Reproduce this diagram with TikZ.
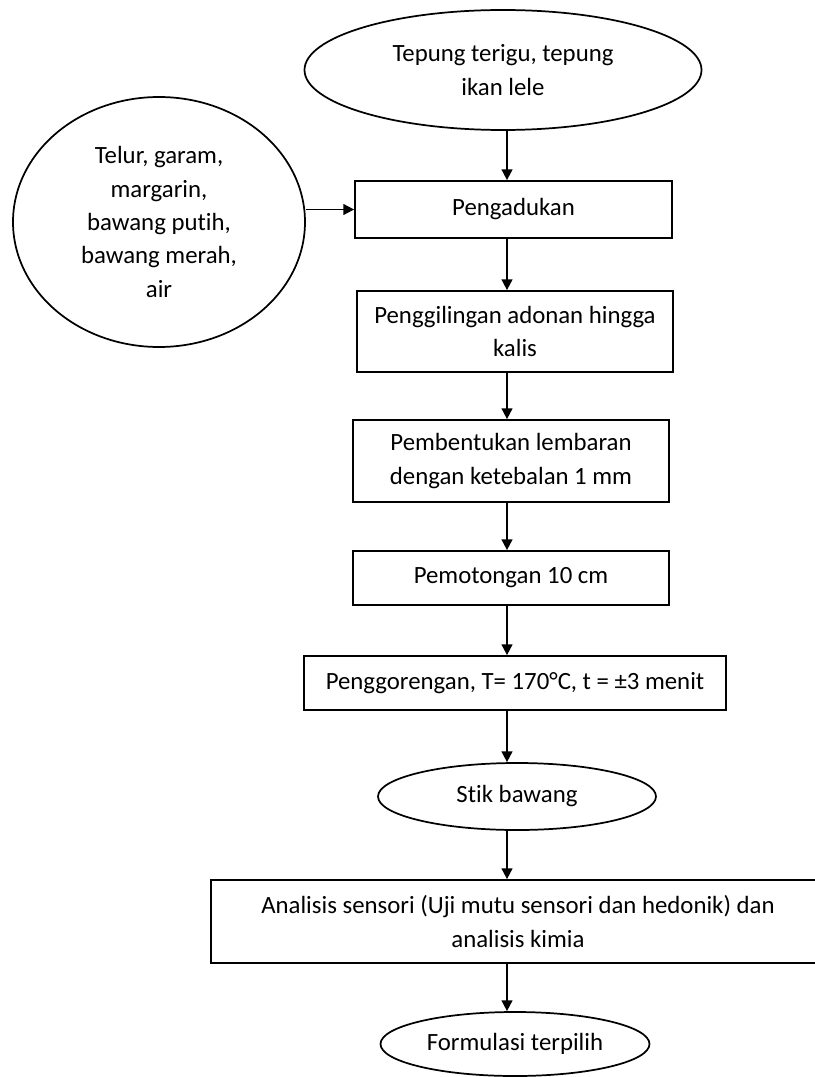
\documentclass[tikz,border=0pt]{standalone}
\usepackage{fontspec}
\setmainfont[Ligatures=NoCommon]{Carlito}
\usetikzlibrary{arrows.meta,shapes.geometric}
\usetikzlibrary{positioning}

\begin{document}
\begin{tikzpicture} [
    x=0.75pt, y=-0.75pt,
    font=\fontsize{18.6}{25}\selectfont,
    proses/.style={rectangle, draw=black, line width=1.3pt, align=center, inner sep=0pt},
    bahan/.style={ellipse, draw=black, line width=1.3pt, align=center, inner sep=0pt},
    alur/.style={->, line width=1.3pt},
    >={Triangle[length=8pt,width=8pt]}
    ]
    \useasboundingbox (0,0) rectangle (814,1077);
    %Nodes
    \node[bahan, minimum width=297.75pt, minimum height=90pt]    (tepung)   at (503,70)    {Tepung terigu, tepung\\ikan lele};
    \node[bahan, minimum width=219pt, minimum height=187.5pt]    (bumbu)    at (159,222)   {Telur, garam,\\margarin,\\bawang putih,\\bawang merah,\\air};
    \node[proses, minimum width=237.75pt, minimum height=42.75pt] (aduk)    at (513.5,209.5) {Pengadukan};
    \node[proses, minimum width=237pt, minimum height=60.75pt]   (giling)   at (515,331.5) {Penggilingan adonan hingga\\kalis};
    \node[proses, minimum width=237pt, minimum height=61.5pt]    (lembar)   at (511,461)   {Pembentukan lembaran\\dengan ketebalan 1 mm};
    \node[proses, minimum width=237pt, minimum height=40.5pt]    (potong)   at (511,578)   {Pemotongan 10 cm};
    \node[proses, minimum width=316.5pt, minimum height=40.5pt]  (goreng)   at (515,683)   {Penggorengan, T= 170°C, t = ±3 menit};
    \node[bahan, minimum width=208.5pt, minimum height=50.25pt]  (stik)     at (517,796.5) {Stik bawang};
    \node[proses, minimum width=460.5pt, minimum height=62.25pt] (analisis) at (518,921.5) {Analisis sensori (Uji mutu sensori dan hedonik) dan\\analisis kimia};
    \node[bahan, minimum width=201.75pt, minimum height=48pt]    (formula)  at (515,1044)  {Formulasi terpilih};
    \coordinate (poros) at (507,0);
    %Lines
    \draw[alur] (tepung.south -| poros) -- (aduk.north -| poros);
    \draw[alur] (bumbu.east |- aduk.west) -- (aduk.west);
    \draw[alur] (aduk.south -| poros) -- (giling.north -| poros);
    \draw[alur] (giling.south -| poros) -- (lembar.north -| poros);
    \draw[alur] (lembar.south -| poros) -- (potong.north -| poros);
    \draw[alur] (potong.south -| poros) -- (goreng.north -| poros);
    \draw[alur] (goreng.south -| poros) -- (stik.north -| poros);
    \draw[alur] (stik.south -| poros) -- (analisis.north -| poros);
    \draw[alur] (analisis.south -| poros) -- (formula.north -| poros);
\end{tikzpicture}
\end{document}
